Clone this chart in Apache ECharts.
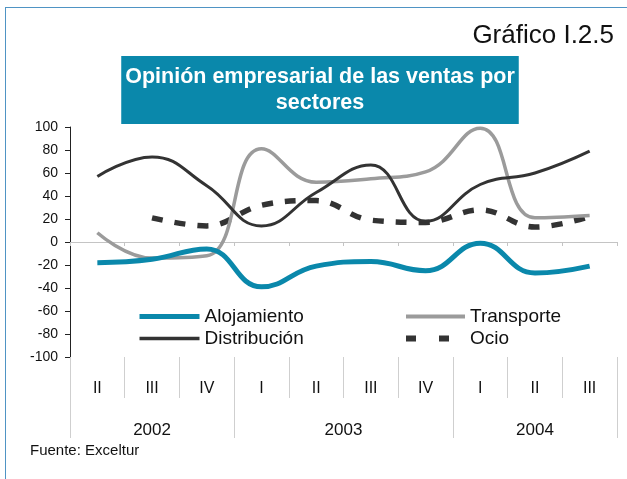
<!DOCTYPE html>
<html>
<head>
<meta charset="utf-8">
<script src="https://cdn.jsdelivr.net/npm/echarts@6/dist/echarts.min.js"></script>
<style>
  html, body { margin: 0; padding: 0; background: #fff; }
  #wrap { position: relative; width: 627px; height: 479px; overflow: hidden; }
  #frame { position: absolute; left: 5px; top: 7px; width: 700px; height: 600px;
           border-left: 1px solid #4f94c4; border-top: 1px solid #4f94c4; pointer-events: none; }
  #chart { position: absolute; left: 0; top: 0; width: 627px; height: 479px; }
</style>
</head>
<body>
<div id="wrap">
  <div id="chart"></div>
  <div id="frame"></div>
</div>
<script>
// ---- data ----
const quarters = ['II', 'III', 'IV', 'I', 'II', 'III', 'IV', 'I', 'II', 'III'];
const years = ['2002', '2003', '2004'];
const quartersPerYear = [3, 4, 3];
const yTicks = { min: -100, max: 100, interval: 20 };

const alojamiento  = [-18, -15, -6, -39, -21, -17, -25, -1, -27, -21];
const transporte   = [8, -14, -12, 81, 52, 55, 61, 99, 21, 23];
const distribucion = [57, 74, 49, 14, 43, 67, 18, 50, 60, 79];
const ocio         = [null, 21, 14, 32, 36, 19, 17, 28, 13, 22];

// ---- build the half-step year axis ----
const yearSlots = new Array(quarters.length * 2 + 1).fill('');
const yearBoundaries = [0];
let start = 0;
years.forEach((y, i) => {
  yearSlots[start * 2 + quartersPerYear[i]] = y;
  start += quartersPerYear[i];
  yearBoundaries.push(start * 2);
});

const FONT = 'Liberation Sans, Arial, Helvetica, sans-serif';
const TEAL = '#0a88ab';
const DIVIDER = '#cfcfcf';

const legendText = { fontSize: 19, color: '#111', fontFamily: FONT };

const chart = echarts.init(document.getElementById('chart'), null, { renderer: 'canvas' });
chart.setOption({
  animation: false,
  backgroundColor: '#fff',
  textStyle: { fontFamily: FONT },
  title: [
    {
      text: 'Opinión empresarial de las ventas por\nsectores',
      left: 316, top: 56, textAlign: 'center',
      backgroundColor: TEAL,
      padding: [8, 4, 8, 4],
      textStyle: { color: '#fff', fontSize: 21.5, fontWeight: 'bold', lineHeight: 26, fontFamily: FONT, align: 'center' }
    },
    {
      text: 'Gráfico I.2.5',
      right: 13, top: 23, padding: 0,
      textStyle: { color: '#111', fontSize: 26, fontWeight: 'normal', fontFamily: FONT }
    },
    {
      text: 'Fuente: Exceltur',
      left: 30, top: 443, padding: 0,
      textStyle: { color: '#111', fontSize: 15, fontWeight: 'normal', fontFamily: FONT }
    }
  ],
  legend: [
    {
      left: 137, top: 307, orient: 'vertical', itemGap: 3, padding: 0,
      itemWidth: 60, itemHeight: 14,
      itemStyle: { opacity: 0 },
      textStyle: legendText,
      data: [
        { name: 'Alojamiento', lineStyle: { width: 5 } },
        { name: 'Distribución', lineStyle: { width: 3.5 } }
      ]
    },
    {
      left: 403, top: 307, orient: 'vertical', itemGap: 3, padding: 0,
      itemWidth: 59, itemHeight: 14,
      itemStyle: { opacity: 0 },
      textStyle: legendText,
      data: [
        { name: 'Transporte', lineStyle: { width: 4 } },
        { name: 'Ocio', lineStyle: { type: [10, 23], width: 6 } }
      ]
    }
  ],
  grid: { left: 70, right: 10, top: 127, bottom: 122, containLabel: false },
  xAxis: [
    {
      type: 'category', data: quarters, boundaryGap: true,
      axisLine: { onZero: true, lineStyle: { color: '#c4c4c4', width: 1 } },
      axisTick: { show: true, length: 4, lineStyle: { color: '#c4c4c4' } },
      axisLabel: { show: false },
      splitLine: { show: false }
    },
    {
      type: 'category', data: quarters, boundaryGap: true, position: 'bottom',
      axisLine: { show: false, onZero: false },
      axisTick: { show: true, length: 41, interval: 0, lineStyle: { color: DIVIDER } },
      axisLabel: { show: true, interval: 0, margin: 24, fontSize: 16, color: '#111', fontFamily: FONT },
      splitLine: { show: false }
    },
    {
      type: 'category', data: yearSlots, boundaryGap: false, position: 'bottom',
      axisLine: { show: false, onZero: false },
      axisTick: { show: true, length: 81, interval: (i) => yearBoundaries.indexOf(i) >= 0, lineStyle: { color: DIVIDER } },
      axisLabel: { show: true, interval: 0, margin: 65, fontSize: 17, color: '#111', fontFamily: FONT },
      splitLine: { show: false }
    }
  ],
  yAxis: {
    type: 'value', min: yTicks.min, max: yTicks.max, interval: yTicks.interval,
    axisLine: { show: true, lineStyle: { color: '#222', width: 1 } },
    axisTick: { show: true, length: 5, lineStyle: { color: '#222' } },
    axisLabel: { margin: 12, fontSize: 14, color: '#111', fontFamily: FONT },
    splitLine: { show: false }
  },
  series: [
    {
      name: 'Alojamiento', type: 'line', data: alojamiento, smooth: 0.45, symbol: 'none',
      lineStyle: { color: TEAL, width: 5 }, itemStyle: { color: TEAL }, z: 3
    },
    {
      name: 'Transporte', type: 'line', data: transporte, smooth: 0.45, symbol: 'none',
      lineStyle: { color: '#9b9b9b', width: 3.5 }, itemStyle: { color: '#9b9b9b' }, z: 2
    },
    {
      name: 'Distribución', type: 'line', data: distribucion, smooth: 0.45, symbol: 'none',
      lineStyle: { color: '#333', width: 3 }, itemStyle: { color: '#333' }, z: 4
    },
    {
      name: 'Ocio', type: 'line', data: ocio, smooth: 0.4, symbol: 'none',
      lineStyle: { color: '#333', width: 5.5, type: [11, 12] }, itemStyle: { color: '#333' }, z: 1
    }
  ]
});
</script>
</body>
</html>
